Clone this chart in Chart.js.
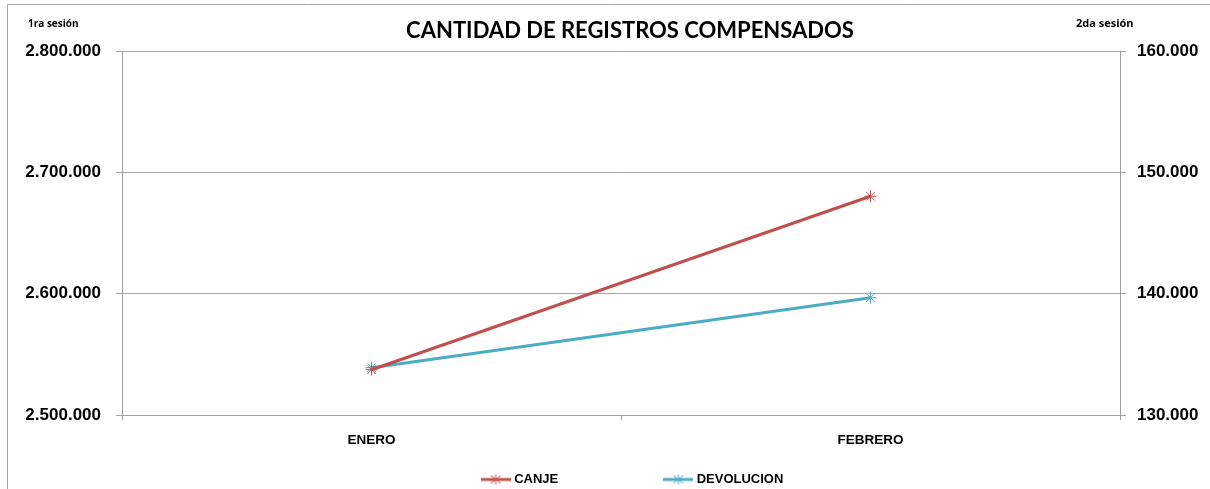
<!DOCTYPE html>
<html>
<head>
<meta charset="utf-8">
<script src="https://cdn.jsdelivr.net/npm/chart.js"></script>
<style>
  html, body { margin: 0; padding: 0; background: #fff; }
  #wrap { width: 1210px; height: 489px; position: relative; }
</style>
</head>
<body>
<div id="wrap"><canvas id="registrosChart"></canvas></div>
<script>
const meses = ['ENERO', 'FEBRERO'];
const canje = [2537300, 2680300];      // 1ra sesión (eje izquierdo)
const devolucion = [133900, 139670];   // 2da sesión (eje derecho)
const ticksIzq = [2500000, 2600000, 2700000, 2800000];
const ticksDer = [130000, 140000, 150000, 160000];

const rojo = '#C0504D';
const azul = '#4BACC6';
const fuente = "'Liberation Sans', Arial, sans-serif";

function formato(v) {
  return v.toLocaleString('de-DE');
}

// marcador de leyenda: linea con asterisco
function marcador(color) {
  const c = document.createElement('canvas');
  c.width = 30; c.height = 12;
  const g = c.getContext('2d');
  g.strokeStyle = color;
  g.lineWidth = 3;
  g.beginPath(); g.moveTo(0, 6); g.lineTo(30, 6); g.stroke();
  g.lineWidth = 1;
  g.beginPath();
  g.moveTo(15, 1); g.lineTo(15, 11);
  g.moveTo(10, 2); g.lineTo(20, 10);
  g.moveTo(20, 2); g.lineTo(10, 10);
  g.stroke();
  return c;
}

const extras = {
  id: 'extras',
  afterLayout(chart) {
    // correr leyenda y titulo un poco a la derecha como en el original
    chart.legend.left += 57;
    chart.titleBlock.left += 50;
  },
  afterDraw(chart) {
    const ctx = chart.ctx;
    ctx.save();
    ctx.strokeStyle = '#a6a6a6';
    ctx.lineWidth = 1;
    ctx.beginPath();
    ctx.moveTo(7.5, 500); ctx.lineTo(7.5, 4.5); ctx.lineTo(1220, 4.5);
    ctx.stroke();
    ctx.fillStyle = '#000';
    ctx.textBaseline = 'middle';
    ctx.textAlign = 'left';
    ctx.font = "bold 10px 'Open Sans', sans-serif";
    ctx.fillText('1ra sesión', 28, 24);
    ctx.font = "bold 11px 'Open Sans', sans-serif";
    ctx.fillText('2da sesión', 1076, 24);
    ctx.restore();
  }
};

const ctx = document.getElementById('registrosChart').getContext('2d');
const registrosChart = new Chart(ctx, {
  type: 'line',
  data: {
    labels: meses,
    datasets: [{
      label: 'CANJE',
      data: canje,
      yAxisID: 'y',
      borderColor: rojo,
      backgroundColor: rojo,
      borderWidth: 3,
      pointStyle: 'star',
      pointRadius: 6,
      pointBorderWidth: 1,
      pointBorderColor: rojo,
      fill: false,
      tension: 0
    }, {
      label: 'DEVOLUCION',
      data: devolucion,
      yAxisID: 'y1',
      borderColor: azul,
      backgroundColor: azul,
      borderWidth: 3,
      pointStyle: 'star',
      pointRadius: 6,
      pointBorderWidth: 1,
      pointBorderColor: azul,
      fill: false,
      tension: 0
    }]
  },
  options: {
    responsive: true,
    maintainAspectRatio: false,
    animation: false,
    layout: { padding: { left: 0, right: 0, top: 0, bottom: -7 } },
    plugins: {
      title: {
        display: true,
        text: 'CANTIDAD DE REGISTROS COMPENSADOS',
        color: '#000',
        font: { family: 'Lato, sans-serif', size: 22, weight: 'bold' },
        padding: { top: 18, bottom: 6.6 }
      },
      legend: {
        position: 'bottom',
        labels: {
          usePointStyle: true,
          pointStyleWidth: 24,
          color: '#000',
          font: { family: fuente, size: 13, weight: 'bold' },
          padding: 4,
          generateLabels(chart) {
            return chart.data.datasets.map((d, i) => ({
              // espacios para separar los items como en el original
              text: i === 0 ? d.label + '\u2002'.repeat(16) : d.label,
              fillStyle: d.borderColor,
              strokeStyle: d.borderColor,
              pointStyle: marcador(d.borderColor),
              lineWidth: 0,
              datasetIndex: i,
              fontColor: '#000'
            }));
          }
        }
      },
      tooltip: { enabled: false }
    },
    scales: {
      x: {
        offset: true,
        afterFit(s) { s.height = 54; },
        grid: {
          offset: true,
          drawOnChartArea: false,
          color: '#a0a0a0',
          tickLength: 5
        },
        border: { color: '#a0a0a0', width: 1 },
        ticks: {
          color: '#000',
          padding: 12,
          font: { family: fuente, size: 13.5, weight: 'bold' }
        }
      },
      y: {
        position: 'left',
        min: 2500000,
        max: 2800000,
        afterBuildTicks(s) { s.ticks = ticksIzq.map(v => ({ value: v })); },
        afterFit(s) { s.width = 122; },
        grid: { color: '#a6a6a6', tickLength: 6 },
        border: { color: '#a0a0a0', width: 1 },
        ticks: {
          color: '#000',
          padding: 15,
          font: { family: fuente, size: 17, weight: 'bold' },
          callback: v => formato(v)
        }
      },
      y1: {
        position: 'right',
        min: 130000,
        max: 160000,
        afterBuildTicks(s) { s.ticks = ticksDer.map(v => ({ value: v })); },
        afterFit(s) { s.width = 90; },
        grid: { drawOnChartArea: false, color: '#a6a6a6', tickLength: 6 },
        border: { color: '#a0a0a0', width: 1 },
        ticks: {
          color: '#000',
          padding: 11,
          font: { family: fuente, size: 17, weight: 'bold' },
          callback: v => formato(v)
        }
      }
    }
  },
  plugins: [extras]
});
</script>
</body>
</html>
